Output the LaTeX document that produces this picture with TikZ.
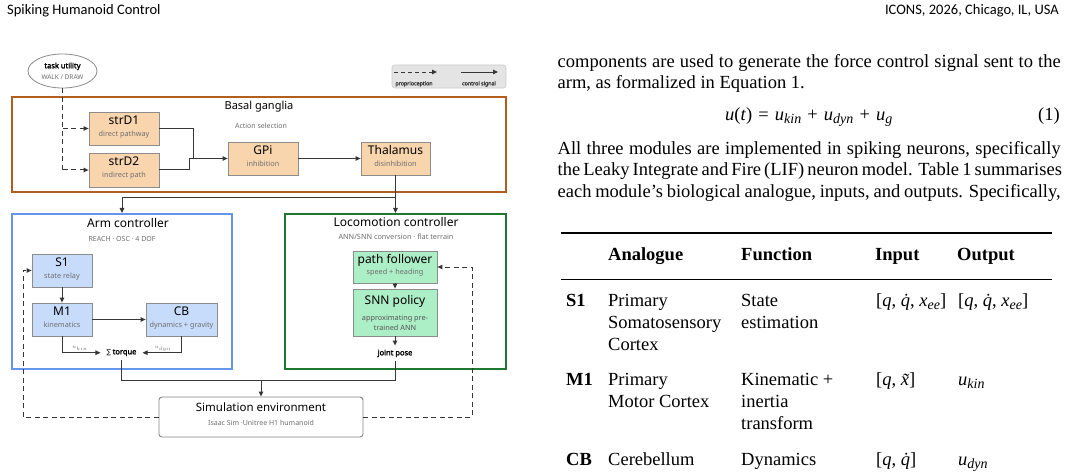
\documentclass[tikz,border=0pt]{standalone}
\usepackage{fontspec}
\setmainfont{Liberation Serif}
\newfontfamily\dg{Noto Sans}[AutoFakeBold=2.2]
\newfontfamily\hd{Carlito}
\newfontfamily\djv{DejaVu Sans}
\usetikzlibrary{arrows.meta,shapes.geometric}
\newcommand\vi[1]{\textit{#1}}
\newcommand\sbs[1]{\raisebox{-0.2em}{\fontsize{14}{14}\selectfont\itshape #1}}
\newcommand\gap{\hspace{0.33em}}
\newlength\accw
\newcommand\dotq{\settowidth\accw{\vi{q}}\makebox[\accw][l]{\vi{\.q}}}
\newcommand\tilx{\settowidth\accw{\vi{x}}\makebox[\accw][l]{\vi{\~x}}}
\definecolor{bgbrown}{RGB}{178,94,30}
\definecolor{peach}{RGB}{249,213,174}
\definecolor{armblue}{RGB}{100,150,235}
\definecolor{lblue}{RGB}{199,219,250}
\definecolor{locgreen}{RGB}{30,120,45}
\definecolor{lgreen}{RGB}{172,238,198}
\definecolor{boxgray}{RGB}{140,140,140}
\definecolor{subgray}{RGB}{110,110,110}
\definecolor{wire}{RGB}{55,55,55}
\definecolor{leggray}{RGB}{228,228,228}
\definecolor{legedge}{RGB}{205,205,205}
\definecolor{simedge}{RGB}{135,135,135}
\begin{document}
\begin{tikzpicture}[x=1pt,y=-1pt,
  wire/.style={draw=wire,line width=1pt},
  arr/.style={wire,-{Triangle[length=5pt,width=4.5pt]}},
  dsh/.style={draw=wire,line width=1pt,dash pattern=on 5pt off 3.5pt},
  darr/.style={dsh,-{Triangle[length=5pt,width=4.5pt]}},
  inbox/.style={draw=boxgray,line width=0.8pt,inner sep=0pt},
  bgbox/.style={inbox,fill=peach},
  armbox/.style={inbox,fill=lblue},
  locbox/.style={inbox,fill=lgreen},
  ttl/.style={font=\dg\fontsize{12}{12}\selectfont,inner sep=0pt,anchor=mid},
  subt/.style={font=\dg\fontsize{7.3}{7.3}\selectfont,text=subgray,inner sep=0pt,anchor=mid},
  body/.style={font=\fontsize{18.5}{22}\selectfont,inner sep=0pt,anchor=mid west},
  bodyb/.style={body,font=\fontsize{18.5}{22}\selectfont\bfseries},
]
\useasboundingbox (0,0) rectangle (1068,473);
\fill[white] (0,0) rectangle (1068,473);

% headers
\node[font=\hd\fontsize{14.5}{15}\selectfont,anchor=mid west,inner sep=0pt] (hl) at (7,12) {Spiking Humanoid Control};
\node[font=\hd\fontsize{14.5}{15}\selectfont,anchor=mid east,inner sep=0pt] (hr) at (1059,12) {ICONS, 2026, Chicago, IL, USA};

% task utility
\node[ellipse,draw=boxgray,line width=0.8pt,minimum width=69pt,minimum height=34pt,inner sep=0pt] (task) at (62.5,71) {};
\node[font=\dg\fontsize{7.5}{7.5}\selectfont\bfseries,inner sep=0pt,anchor=mid] (taskt) at (62.5,66) {task utility};
\node[font=\dg\fontsize{6.5}{6.5}\selectfont,text=subgray,inner sep=0pt,anchor=mid] (tasks) at (62.5,77) {WALK / DRAW};

% legend
\node[draw=legedge,fill=leggray,rounded corners=3pt,line width=0.8pt,minimum width=114pt,minimum height=23pt,inner sep=0pt] (legend) at (449,76.5) {};
\coordinate (la) at (394,72);
\coordinate (lb) at (437,72);
\coordinate (lc) at (461,72);
\coordinate (ld) at (498,72);
\draw[darr,line width=0.9pt,dash pattern=on 4pt off 3pt] (la) -- (lb);
\draw[arr,line width=0.9pt] (lc) -- (ld);
\node[font=\dg\fontsize{5.3}{5.3}\selectfont\bfseries,text=wire,inner sep=0pt,anchor=mid] (lp) at (414,83) {proprioception};
\node[font=\dg\fontsize{5.3}{5.3}\selectfont\bfseries,text=wire,inner sep=0pt,anchor=mid] (lcs) at (479,83) {control signal};

% basal ganglia
\node[draw=bgbrown,line width=2pt,minimum width=494pt,minimum height=95pt,inner sep=0pt] (bg) at (259,144.5) {};
\node[font=\dg\fontsize{11}{11}\selectfont,inner sep=0pt,anchor=mid] (bgt) at (259,107) {Basal ganglia};
\node[subt,font=\dg\fontsize{7}{7}\selectfont] (bgs) at (261,126) {Action selection};

\node[bgbox,minimum width=70pt,minimum height=33pt] (strD1) at (124,128.5) {};
\node[ttl] at (124,122) {strD1};
\node[subt] at (124,134) {direct pathway};
\node[bgbox,minimum width=70pt,minimum height=34pt] (strD2) at (124,170) {};
\node[ttl] at (124,163.5) {strD2};
\node[subt] at (124,175.5) {indirect path};
\node[bgbox,minimum width=70pt,minimum height=33pt] (GPi) at (263,158.5) {};
\node[ttl] at (263,152) {GPi};
\node[subt] at (263,164) {inhibition};
\node[bgbox,minimum width=69pt,minimum height=33pt] (thal) at (395.5,158.5) {};
\node[ttl] at (395.5,152) {Thalamus};
\node[subt] at (395.5,164) {disinhibition};

% arm controller
\node[draw=armblue,line width=2pt,minimum width=220pt,minimum height=155pt,inner sep=0pt] (arm) at (122,291.5) {};
\node[ttl] at (128,225) {Arm controller};
\node[subt,font=\dg\fontsize{7}{7}\selectfont] at (122,239) {REACH · OSC · 4 DOF};
\node[armbox,minimum width=60pt,minimum height=33pt] (S1) at (62,270.5) {};
\node[ttl] at (62,264.5) {S1};
\node[subt] at (62,276) {state relay};
\node[armbox,minimum width=60pt,minimum height=33pt] (M1) at (62,319.5) {};
\node[ttl] at (62,313) {M1};
\node[subt] at (62,325) {kinematics};
\node[armbox,minimum width=71pt,minimum height=33pt] (CB) at (181.5,319.5) {};
\node[ttl] at (181.5,313) {CB};
\node[subt] at (181.5,325) {dynamics + gravity};
\node[inner xsep=6pt,inner ysep=4pt,anchor=mid] (torque) at (121.5,352) {{\djv\fontsize{6.5}{6.5}\selectfont ∑}\,{\dg\fontsize{7.5}{7.5}\selectfont\bfseries torque}};
\node[font=\fontsize{5.5}{5.5}\selectfont,text=subgray,inner sep=0pt,anchor=mid] (ukin) at (80,346) {$u_{kin}$};
\node[font=\fontsize{5.5}{5.5}\selectfont,text=subgray,inner sep=0pt,anchor=mid] (udyn) at (163,346) {$u_{dyn}$};

% locomotion controller
\node[draw=locgreen,line width=2pt,minimum width=221pt,minimum height=155pt,inner sep=0pt] (loc) at (395.5,291.5) {};
\node[ttl] at (396,224) {Locomotion controller};
\node[subt] at (396,237) {ANN/SNN conversion · flat terrain};
\node[locbox,minimum width=84pt,minimum height=32pt] (pf) at (395,267) {};
\node[ttl] at (395,261) {path follower};
\node[subt] at (395,272.5) {speed + heading};
\node[locbox,minimum width=84pt,minimum height=47pt] (snn) at (395,312.5) {};
\node[ttl] at (395,302) {SNN policy};
\node[subt,text=wire!85] at (395,318) {approximating pre-};
\node[subt,text=wire!85] at (395,328) {trained ANN};
\node[font=\dg\fontsize{7.5}{7.5}\selectfont\bfseries,inner xsep=2pt,inner ysep=4pt,anchor=mid] (joint) at (395,353) {joint pose};

% simulation
\node[draw=simedge,line width=0.9pt,rounded corners=3pt,minimum width=204pt,minimum height=40pt,inner sep=0pt] (sim) at (261,417) {};
\node[font=\dg\fontsize{11.5}{11.5}\selectfont,inner sep=0pt,anchor=mid] at (261,409) {Simulation environment};
\node[subt,font=\dg\fontsize{7}{7}\selectfont] at (261,423.5) {Isaac Sim ·Unitree H1 humanoid};

% connectors
\draw[dsh] (task.south) -- (task.south |- strD2.west);
\draw[darr] (task.south |- strD1.west) -- (strD1.west);
\draw[darr] (task.south |- strD2.west) -- (strD2.west);

\coordinate (j1) at (193,128.5);
\coordinate (j2) at (189,170);
\coordinate (j) at (189,158.5);
\draw[wire] (strD1.east) -- (j1) -- (j1 |- GPi.west) -- (j);
\draw[wire] (strD2.east) -- (j2) -- (j);
\draw[arr] (j) -- (GPi.west);
\draw[arr] (GPi.east) -- (thal.west);

\coordinate (split) at (395.5,198);
\draw[wire] (thal.south) -- (split);
\draw[arr] (split) -- (loc.north);
\draw[arr] (split) -| (arm.north);

\draw[arr] (S1.south) -- (M1.north);
\draw[arr] (M1.east) -- (CB.west);
\draw[arr] (M1.south) |- (torque.west);
\draw[arr] (CB.south) |- (torque.east);
\draw[arr] (pf.south) -- (snn.north);
\draw[arr] (snn.south) -- (joint.north);

\coordinate (merge) at (261,380);
\draw[wire] (torque.south) |- (merge);
\draw[wire] (joint.south) |- (merge);
\draw[arr] (merge) -- (sim.north);

\coordinate (fbL) at (23,270.5);
\coordinate (fbR) at (472,267);
\draw[darr] (sim.west) -| (fbL) -- (S1.west);
\draw[darr] (sim.east) -| (fbR) -- (pf.east);

% right column text
\node[body] (l1) at (557.5,65) {\makebox[503pt][s]{components are used to generate the force control signal sent to the}};
\node[body] (l2) at (557.5,86) {arm, as formalized in Equation 1.};
\node[body] (eq) at (725,118) {\vi{u}(\vi{t})\gap=\gap\vi{u}\sbs{kin}\gap+\gap\vi{u}\sbs{dyn}\gap+\gap\vi{u}\sbs{g}};
\node[font=\fontsize{18.5}{22}\selectfont,inner sep=0pt,anchor=mid east] (eqn) at (1060,118) {(1)};
\node[body] (l3) at (557.5,152) {\makebox[503pt][s]{All three modules are implemented in spiking neurons, specifically}};
\node[body] (l4) at (557.5,173) {\makebox[503pt][s]{the Leaky Integrate and Fire (LIF) neuron model. Table 1 summarises}};
\node[body] (l5) at (557.5,195) {\makebox[503pt][s]{each module’s biological analogue, inputs, and outputs. Specifically,}};

% table
\draw[line width=1.5pt] (561,233) -- (1052,233);
\node[bodyb] at (608,258) {Analogue};
\node[bodyb] at (741,258) {Function};
\node[bodyb] at (875,258) {Input};
\node[bodyb] at (957,258) {Output};
\draw[line width=0.9pt] (561,279) -- (1052,279);

\node[bodyb] at (566,304) {S1};
\node[body] at (608,304) {Primary};
\node[body] at (608,326) {Somatosensory};
\node[body] at (608,348) {Cortex};
\node[body] at (741,304) {State};
\node[body] at (741,326) {estimation};
\node[body] at (876,304) {[\vi{q}, \dotq, \vi{x}\sbs{ee}]};
\node[body] at (958,304) {[\vi{q}, \dotq, \vi{x}\sbs{ee}]};

\node[bodyb] at (566,383) {M1};
\node[body] at (608,383) {Primary};
\node[body] at (608,405) {Motor Cortex};
\node[body] at (741,383) {Kinematic +};
\node[body] at (741,405) {inertia};
\node[body] at (741,427) {transform};
\node[body] at (876,383) {[\vi{q}, \tilx]};
\node[body] at (958,383) {\vi{u}\sbs{kin}};

\node[bodyb] at (566,463) {CB};
\node[body] at (608,463) {Cerebellum};
\node[body] at (741,463) {Dynamics};
\node[body] at (876,463) {[\vi{q}, \dotq]};
\node[body] at (958,463) {\vi{u}\sbs{dyn}};
\end{tikzpicture}
\end{document}
